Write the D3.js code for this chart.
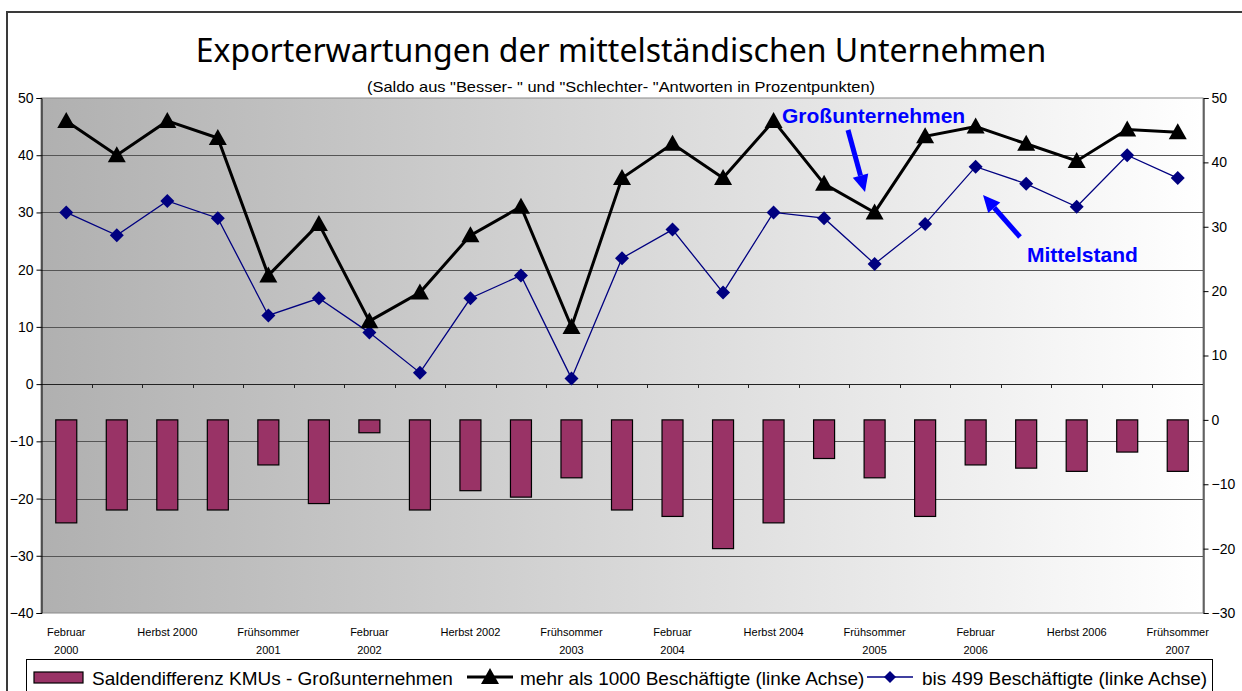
<!DOCTYPE html>
<html>
<head>
<meta charset="utf-8">
<script src="https://cdn.jsdelivr.net/npm/d3@7"></script>
<style>
  body { margin: 0; background: #fff; }
  svg text { font-family: "Liberation Sans", Arial, sans-serif; }
</style>
</head>
<body>
<svg id="chart" width="1242" height="691"></svg>
<script>
// survey rounds (3 per year)
const categories = [
  "Februar 2000", "Frühsommer 2000", "Herbst 2000",
  "Februar 2001", "Frühsommer 2001", "Herbst 2001",
  "Februar 2002", "Frühsommer 2002", "Herbst 2002",
  "Februar 2003", "Frühsommer 2003", "Herbst 2003",
  "Februar 2004", "Frühsommer 2004", "Herbst 2004",
  "Februar 2005", "Frühsommer 2005", "Herbst 2005",
  "Februar 2006", "Frühsommer 2006", "Herbst 2006",
  "Februar 2007", "Frühsommer 2007"
];
// every second category gets a label (two lines)
const tickLabels = {
  0: ["Februar", "2000"], 2: ["Herbst 2000"], 4: ["Frühsommer", "2001"],
  6: ["Februar", "2002"], 8: ["Herbst 2002"], 10: ["Frühsommer", "2003"],
  12: ["Februar", "2004"], 14: ["Herbst 2004"], 16: ["Frühsommer", "2005"],
  18: ["Februar", "2006"], 20: ["Herbst 2006"], 22: ["Frühsommer", "2007"]
};
// mehr als 1000 Beschäftigte
const gross = [46, 40, 46, 43, 19, 28, 11, 16, 26, 31, 10, 36, 42, 36, 46, 35, 30, 43.3, 45, 42, 39, 44.5, 44];
// bis 499 Beschäftigte
const mittel = [30, 26, 32, 29, 12, 15, 9, 2, 15, 19, 1, 22, 27, 16, 30, 29, 21, 28, 38, 35, 31, 40, 36];
// Saldendifferenz (rechte Achse)
const diff = [-16, -14, -14, -14, -7, -13, -2, -14, -11, -12, -9, -14, -15, -20, -16, -6, -9, -15, -7, -7.5, -8, -5, -8];

const leftTicks = [50, 40, 30, 20, 10, 0, -10, -20, -30, -40];
const rightTicks = [50, 40, 30, 20, 10, 0, -10, -20, -30];

const svg = d3.select("#chart");
const m = { left: 41, right: 1203, top: 98, bottom: 613 };

// outer chart border
svg.append("rect")
  .attr("x", 7).attr("y", 12).attr("width", 1250).attr("height", 700)
  .attr("fill", "none").attr("stroke", "#3a3a3a").attr("stroke-width", 2);

const x = d3.scaleBand().domain(d3.range(categories.length)).range([m.left, m.right]).padding(0);
const yL = d3.scaleLinear().domain([-40, 50]).range([m.bottom, m.top]);
const yR = d3.scaleLinear().domain([-30, 50]).range([m.bottom, m.top]);
const cx = i => x(i) + x.bandwidth() / 2;

// plot background gradient
const defs = svg.append("defs");
const grad = defs.append("linearGradient").attr("id", "bg").attr("x1", 0).attr("x2", 1).attr("y1", 0).attr("y2", 0);
grad.append("stop").attr("offset", 0).attr("stop-color", "#b0b0b0");
grad.append("stop").attr("offset", 1).attr("stop-color", "#ffffff");

svg.append("rect")
  .attr("x", m.left).attr("y", m.top)
  .attr("width", m.right - m.left).attr("height", m.bottom - m.top)
  .attr("fill", "url(#bg)").attr("stroke", "#8a8a8a").attr("stroke-width", 1);

// gridlines (left axis)
svg.append("g").selectAll("line")
  .data(leftTicks.filter(d => d !== 50 && d !== -40))
  .join("line")
  .attr("x1", m.left).attr("x2", m.right)
  .attr("y1", d => Math.round(yL(d)) + 0.5).attr("y2", d => Math.round(yL(d)) + 0.5)
  .attr("stroke", d => d === 0 ? "#222" : "#555").attr("stroke-width", 1);

// category tick marks on the zero line
svg.append("g").selectAll("line")
  .data(d3.range(1, categories.length))
  .join("line")
  .attr("x1", d => Math.round(x(d)) + 0.5).attr("x2", d => Math.round(x(d)) + 0.5)
  .attr("y1", Math.round(yL(0))).attr("y2", Math.round(yL(0)) + 4)
  .attr("stroke", "#222");

// left axis
const gL = svg.append("g").attr("transform", `translate(${m.left + 0.5},0)`)
  .call(d3.axisLeft(yL).tickValues(leftTicks).tickSize(5).tickFormat(d3.format("d")));
gL.select(".domain").attr("stroke", "#000");
gL.selectAll(".tick line").attr("stroke", "#000");
gL.selectAll("text").attr("font-size", 14).attr("fill", "#000").attr("x", -8);

// right axis
const gR = svg.append("g").attr("transform", `translate(${m.right + 0.5},0)`)
  .call(d3.axisRight(yR).tickValues(rightTicks).tickSize(5).tickFormat(d3.format("d")));
gR.select(".domain").attr("stroke", "#000");
gR.selectAll(".tick line").attr("stroke", "#000");
gR.selectAll("text").attr("font-size", 14).attr("fill", "#000").attr("x", 8);

// category labels
const lab = svg.append("g").selectAll("text")
  .data(Object.keys(tickLabels).map(Number))
  .join("text")
  .attr("x", d => cx(d))
  .attr("y", 636)
  .attr("text-anchor", "middle")
  .attr("font-size", 11)
  .attr("fill", "#000");
lab.selectAll("tspan")
  .data(d => tickLabels[d].map(t => ({ t, i: d })))
  .join("tspan")
  .attr("x", d => cx(d.i))
  .attr("dy", (d, k) => k === 0 ? 0 : 18)
  .text(d => d.t);

// bars (right axis)
const barW = 21;
svg.append("g").selectAll("rect")
  .data(diff)
  .join("rect")
  .attr("x", (d, i) => cx(i) - barW / 2)
  .attr("y", yR(0))
  .attr("width", barW)
  .attr("height", d => yR(d) - yR(0))
  .attr("fill", "#993366").attr("stroke", "#000").attr("stroke-width", 1.2);

// Mittelstand line
svg.append("path")
  .datum(mittel)
  .attr("d", d3.line().x((d, i) => cx(i)).y(d => yL(d)))
  .attr("fill", "none").attr("stroke", "#000080").attr("stroke-width", 1.3);
svg.append("g").selectAll("path")
  .data(mittel)
  .join("path")
  .attr("transform", (d, i) => `translate(${cx(i)},${yL(d)})`)
  .attr("d", "M0,-7L7,0L0,7L-7,0Z")
  .attr("fill", "#000080");

// Großunternehmen line
svg.append("path")
  .datum(gross)
  .attr("d", d3.line().x((d, i) => cx(i)).y(d => yL(d)))
  .attr("fill", "none").attr("stroke", "#000").attr("stroke-width", 3);
svg.append("g").selectAll("path")
  .data(gross)
  .join("path")
  .attr("transform", (d, i) => `translate(${cx(i)},${yL(d)})`)
  .attr("d", "M0,-9L9,7L-9,7Z")
  .attr("fill", "#000");

// titles
svg.append("text")
  .attr("x", 621).attr("y", 62)
  .attr("text-anchor", "middle")
  .style("font-family", "'Noto Sans', sans-serif")
  .attr("font-size", 32).attr("fill", "#000")
  .text("Exporterwartungen der mittelständischen Unternehmen");
svg.append("text")
  .attr("x", 621).attr("y", 92)
  .attr("text-anchor", "middle")
  .attr("font-size", 14.5).attr("fill", "#000")
  .attr("textLength", 508).attr("lengthAdjust", "spacingAndGlyphs")
  .text("(Saldo aus \"Besser- \" und \"Schlechter- \"Antworten in Prozentpunkten)");

// annotations
const blue = "#0000ff";
svg.append("text").attr("x", 782).attr("y", 123)
  .attr("font-size", 21).attr("font-weight", "bold").attr("fill", blue).text("Großunternehmen");
svg.append("text").attr("x", 1027).attr("y", 262)
  .attr("font-size", 21).attr("font-weight", "bold").attr("fill", blue).text("Mittelstand");

function arrow(x1, y1, x2, y2) {
  const a = Math.atan2(y2 - y1, x2 - x1);
  const hl = 17, hw = 8;
  const bx = x2 - hl * Math.cos(a), by = y2 - hl * Math.sin(a);
  svg.append("line")
    .attr("x1", x1).attr("y1", y1).attr("x2", bx).attr("y2", by)
    .attr("stroke", blue).attr("stroke-width", 5);
  svg.append("path")
    .attr("d", `M${x2},${y2}L${bx + hw * Math.sin(a)},${by - hw * Math.cos(a)}L${bx - hw * Math.sin(a)},${by + hw * Math.cos(a)}Z`)
    .attr("fill", blue);
}
arrow(848, 130, 865, 192);
arrow(1020, 237, 983, 195);

// legend
const lg = svg.append("g");
lg.append("rect")
  .attr("x", 26.5).attr("y", 659.5).attr("width", 1186).attr("height", 45)
  .attr("fill", "#fff").attr("stroke", "#000").attr("stroke-width", 1);
lg.append("rect")
  .attr("x", 34).attr("y", 672).attr("width", 49).attr("height", 11)
  .attr("fill", "#993366").attr("stroke", "#000").attr("stroke-width", 1.2);
lg.append("text").attr("x", 92).attr("y", 685).attr("font-size", 19).text("Saldendifferenz KMUs - Großunternehmen");

lg.append("line").attr("x1", 467).attr("x2", 513).attr("y1", 677).attr("y2", 677)
  .attr("stroke", "#000").attr("stroke-width", 3);
lg.append("path").attr("transform", "translate(490,677)").attr("d", "M0,-9L9,7L-9,7Z").attr("fill", "#000");
lg.append("text").attr("x", 520).attr("y", 685).attr("font-size", 19).text("mehr als 1000 Beschäftigte (linke Achse)");

lg.append("line").attr("x1", 867).attr("x2", 913).attr("y1", 677).attr("y2", 677)
  .attr("stroke", "#000080").attr("stroke-width", 1.3);
lg.append("path").attr("transform", "translate(890,677)").attr("d", "M0,-6L6,0L0,6L-6,0Z").attr("fill", "#000080");
lg.append("text").attr("x", 922).attr("y", 685).attr("font-size", 19).text("bis 499 Beschäftigte (linke Achse)");
</script>
</body>
</html>
